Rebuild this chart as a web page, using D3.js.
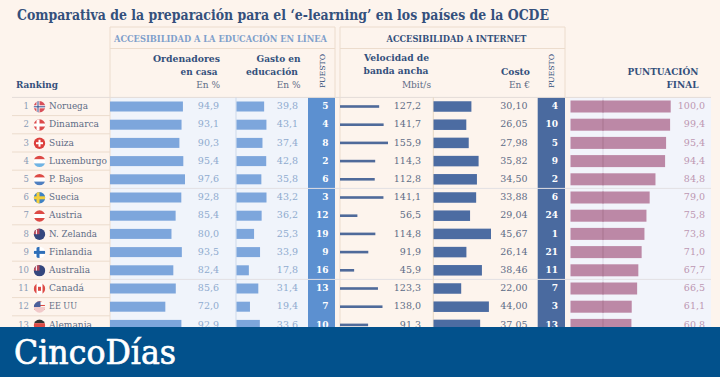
<!DOCTYPE html>
<html><head><meta charset="utf-8">
<script src="https://cdn.jsdelivr.net/npm/d3@7/dist/d3.min.js"></script>
<style>html,body{margin:0;padding:0;background:#fdf4ed;overflow:hidden}svg{display:block}text{font-family:"DejaVu Serif",serif}</style>
</head><body><svg id="c" width="720" height="377"></svg>
<script>
const ranks=[1,2,3,4,5,6,7,8,9,10,11,12,13];
const countries=["Noruega","Dinamarca","Suiza","Luxemburgo","P. Bajos","Suecia","Austria","N. Zelanda","Finlandia","Australia","Canadá","EE UU","Alemania"];
const ordenadores=[94.9,93.1,90.3,95.4,97.6,92.8,85.4,80.0,93.5,82.4,85.6,72.0,92.9];
const gasto=[39.8,43.1,37.4,42.8,35.8,43.2,36.2,25.3,33.9,17.8,31.4,19.4,33.6];
const puestoEdu=[5,4,8,2,6,3,12,19,9,16,13,7,10];
const velocidad=[127.2,141.7,155.9,114.3,112.8,141.1,56.5,114.8,91.9,45.9,123.3,138.0,91.3];
const costo=[30.10,26.05,27.98,35.82,34.50,33.88,29.04,45.67,26.14,38.46,22.00,44.00,37.05];
const puestoNet=[4,10,5,9,2,6,24,1,21,11,7,3,13];
const finalScore=[100.0,99.4,95.4,94.4,84.8,79.0,75.8,73.8,71.0,67.7,66.5,61.1,60.8];

const svg=d3.select("#c");
const fmt=(v,d)=>v.toFixed(d).replace(".",",");
const y=d3.scaleBand().domain(d3.range(13)).range([97.4,97.4+18.2*13]);
const cy=i=>y(i)+y.bandwidth()/2;
const xOrd=d3.scaleLinear().domain([0,97.6]).range([110,185]);
const xGas=d3.scaleLinear().domain([0,43.2]).range([236.5,266.5]);
const xVel=d3.scaleLinear().domain([0,155.9]).range([340,388]);
const xCos=d3.scaleLinear().domain([0,45.67]).range([433.5,491]);
const xFin=d3.scaleLinear().domain([0,100]).range([570.5,670.7]);

const LINE="#ecdccd",NAVY="#34507c",SLATE="#5d6c86",PALE="#8fabcf";
function T(x,yy,s,o={}){
  const t=svg.append("text").attr("x",x).attr("y",yy).text(s)
    .attr("font-size",o.size||10).attr("fill",o.fill||NAVY)
    .attr("text-anchor",o.anchor||"start").attr("font-weight",o.weight||"normal");
  if(o.len)t.attr("textLength",o.len).attr("lengthAdjust","spacingAndGlyphs");
  return t;
}
function R(x,yy,w,h,f){return svg.append("rect").attr("x",x).attr("y",yy).attr("width",w).attr("height",h).attr("fill",f);}
function L(x1,y1,x2,y2,c,w=1){svg.append("line").attr("x1",x1).attr("y1",y1).attr("x2",x2).attr("y2",y2).attr("stroke",c).attr("stroke-width",w);}

// panels
const bottom=330;
R(110,97.4,198,bottom-97.4,"#f0f4fb");
R(570,97.4,141,bottom-97.4,"#f2f4fb");
R(308,97.4,27,bottom-97.4,"#5c90d0");
R(537.7,97.4,27.3,bottom-97.4,"#4a6a9f");

// header frames
[[110,335],[340,565]].forEach(([a,b])=>{
  L(a,27,b,27,LINE);L(a,48.5,b,48.5,LINE);
  L(a,27,a,bottom,LINE);L(b,27,b,97,LINE);
});
L(12,97.4,711,97.4,"#e3dcd8");
// row rules
d3.range(1,13).forEach(i=>{
  const yy=y(i);
  L(12,yy,110,yy,LINE);
  if(i%5===0)L(110,yy,711,yy,"#e2e0e3");
});
L(236,97.4,236,bottom,"#cdd9ea");
L(433.3,97.4,433.3,bottom,"#e7d8c4");
L(603,97.4,603,bottom,"#dcd9e6");

// title
T(17,19.5,"Comparativa de la preparación para el ‘e-learning’ en los países de la OCDE",{size:15,weight:"bold",len:532});
// group heads
T(114,42,"ACCESIBILIDAD A LA EDUCACIÓN EN LÍNEA",{size:8.5,weight:"bold",fill:"#7fa0cb",len:213});
T(386.5,42,"ACCESIBILIDAD A INTERNET",{size:8.5,weight:"bold",len:140});
// col heads
const H=(x,yy,s,len)=>T(x,yy,s,{size:9,weight:"bold",anchor:"end",len});
const S=(x,yy,s)=>T(x,yy,s,{size:9,anchor:"end",fill:SLATE});
T(16,88,"Ranking",{size:9,weight:"bold",len:42});
H(220,62,"Ordenadores",67);H(217.5,75,"en casa",37);S(220,88,"En %");
H(300.5,62,"Gasto en",44);H(298,75,"educación",52);S(300.5,88,"En %");
H(429,61,"Velocidad de",65);H(428.5,74,"banda ancha",65);S(431,88,"Mbit/s");
H(530,75,"Costo",29);S(530,88,"En €");
H(698.5,75,"PUNTUACIÓN",71);H(698.5,88,"FINAL",32);
[[325,71],[554,71]].forEach(([x,yy])=>
  svg.append("text").attr("transform",`translate(${x},${yy}) rotate(-90)`).attr("text-anchor","middle")
    .attr("font-size",7).attr("textLength",34).attr("lengthAdjust","spacingAndGlyphs").attr("fill",NAVY).text("PUESTO"));

// flags
const defs=svg.append("defs");
function flag(i,name){
  const cx=39.5,c=cy(i)+0.3,r=5.7,id="f"+i;
  defs.append("clipPath").attr("id",id).append("circle").attr("cx",cx).attr("cy",c).attr("r",r);
  const g=svg.append("g").attr("clip-path",`url(#${id})`);
  const rr=(x,yy,w,h,f)=>g.append("rect").attr("x",cx+x).attr("y",c+yy).attr("width",w).attr("height",h).attr("fill",f);
  const stripes=cs=>cs.forEach((k,n)=>rr(-6,-6+n*4,12,4,k));
  const cross=(bg,a,b)=>{rr(-6,-6,12,12,bg);rr(-3,-6,3,12,a);rr(-6,-1.5,12,3,a);if(b){rr(-2,-6,1,12,b);rr(-6,-.5,12,1,b);}};
  const red="#dd4a45",blue="#34477e";
  if(name==="Noruega")cross("#d8505a","#fff","#2f4a8a");
  if(name==="Dinamarca")cross("#dc4a4a","#fff");
  if(name==="Suiza"){rr(-6,-6,12,12,"#dc3f3c");rr(-1,-3.5,2,7,"#fff");rr(-3.5,-1,7,2,"#fff");}
  if(name==="Luxemburgo")stripes([red,"#fff","#6fb4e4"]);
  if(name==="P. Bajos")stripes([red,"#fff","#4f7fc0"]);
  if(name==="Suecia")cross("#3f82c4","#f4cf3a");
  if(name==="Austria")stripes([red,"#fff",red]);
  if(name==="N. Zelanda"||name==="Australia"){rr(-6,-6,12,12,blue);rr(-6,-6,6,6,"#b84b5c");rr(-3.6,-6,1,6,"#fff");}
  if(name==="Finlandia")cross("#fff","#2f6fb8");
  if(name==="Canadá"){rr(-6,-6,12,12,"#fff");rr(-6,-6,3,12,red);rr(3,-6,3,12,red);rr(-1.5,-2,3,4,red);}
  if(name==="EE UU"){[0,1,2,3,4,5].forEach(n=>rr(-6,-6+n*2,12,1,n%2?"#fff":red));rr(-6,0,12,6,"#f1c9c9");rr(-6,-6,7,6,"#4a5f9a");}
  if(name==="Alemania")stripes(["#333",red,"#eec53c"]);
}

// rows
countries.forEach((n,i)=>{
  const c=cy(i),ty=c+2.6;
  T(29,ty,ranks[i],{size:8.5,anchor:"end",fill:"#8a9bb5"});
  flag(i,n);
  T(49,ty,n,{size:8.8,fill:SLATE,len:{Noruega:39,Dinamarca:50,Suiza:25,Luxemburgo:58,"P. Bajos":34,Suecia:30,Austria:33,"N. Zelanda":48,Finlandia:43,Australia:41,"Canadá":35,"EE UU":28,Alemania:43}[n]});
});
const bars=(arr,sc,h,f)=>svg.append("g").selectAll("rect").data(arr).join("rect")
  .attr("x",sc(0)).attr("y",(d,i)=>cy(i)-h/2).attr("width",d=>sc(d)-sc(0)).attr("height",h).attr("fill",f);
bars(ordenadores,xOrd,10,"#7da6dc");
bars(gasto,xGas,10,"#7da6dc");
bars(velocidad,xVel,2.6,"#4f6a9a");
bars(costo,xCos,10.5,"#4c6ca2");
bars(finalScore,xFin,12,"#bc88a6");
// darker gridline seen through the score bars
svg.append("g").selectAll("line").data(finalScore).join("line")
  .attr("x1",603).attr("x2",603).attr("y1",(d,i)=>cy(i)-6).attr("y2",(d,i)=>cy(i)+6)
  .attr("stroke","#a8748f").attr("stroke-width",1);

countries.forEach((n,i)=>{
  const ty=cy(i)+2.6;
  T(219,ty,fmt(ordenadores[i],1),{size:9.5,anchor:"end",fill:PALE});
  T(298,ty,fmt(gasto[i],1),{size:9.5,anchor:"end",fill:PALE});
  T(421,ty,fmt(velocidad[i],1),{size:9.5,anchor:"end",fill:SLATE});
  T(527.5,ty,fmt(costo[i],2),{size:9.5,anchor:"end",fill:SLATE});
  T(705,ty,fmt(finalScore[i],1),{size:9.5,anchor:"end",fill:"#bd97b2"});
  T(328.5,ty,puestoEdu[i],{size:9,weight:"bold",anchor:"end",fill:"#fff"});
  T(558,ty,puestoNet[i],{size:9,weight:"bold",anchor:"end",fill:"#fff"});
});

// banner
R(0,327,720,50,"#02518c");
T(14,364,"CincoDías",{size:33,fill:"#fff",len:162}).attr("stroke","#fff").attr("stroke-width",.7);
</script></body></html>
